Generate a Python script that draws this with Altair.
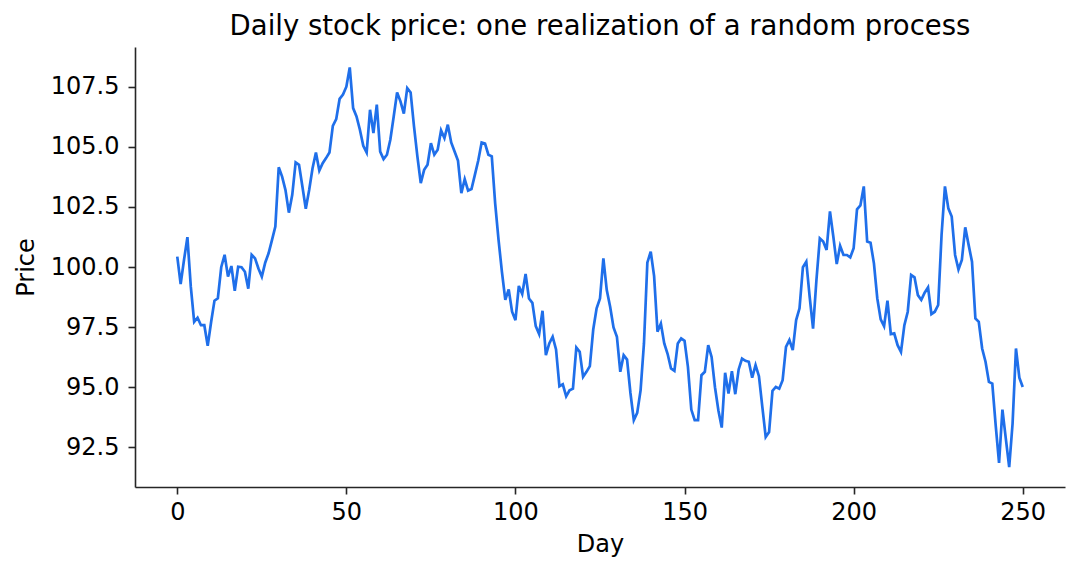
import altair as alt
import pandas as pd

# Daily closing price (days 0..250)
prices = [
    100.43, 99.29, 100.30, 101.24, 99.18, 97.72, 97.89, 97.58, 97.58, 96.72,
    97.70, 98.60, 98.70, 99.99, 100.51, 99.60, 100.04, 99.01, 100.01, 99.99,
    99.80, 99.10, 100.51, 100.36, 99.94, 99.60, 100.18, 100.57, 101.12, 101.68,
    104.15, 103.76, 103.20, 102.26, 103.00, 104.35, 104.25, 103.35, 102.42, 103.20,
    104.11, 104.76, 104.01, 104.32, 104.53, 104.76, 105.87, 106.15, 106.99, 107.17,
    107.50, 108.30, 106.61, 106.26, 105.71, 105.04, 104.76, 106.54, 105.57, 106.75,
    104.80, 104.49, 104.67, 105.29, 106.26, 107.26, 106.89, 106.38, 107.44, 107.26,
    105.85, 104.60, 103.49, 104.04, 104.25, 105.15, 104.67, 104.88, 105.68, 105.36,
    105.92, 105.18, 104.80, 104.43, 103.07, 103.65, 103.18, 103.24, 103.83, 104.43,
    105.18, 105.13, 104.67, 104.60, 102.65, 101.13, 99.80, 98.63, 99.07, 98.14,
    97.79, 99.21, 98.88, 99.71, 98.69, 98.51, 97.54, 97.21, 98.18, 96.33,
    96.82, 97.10, 96.57, 95.04, 95.12, 94.62, 94.87, 94.94, 96.65, 96.47,
    95.43, 95.64, 95.88, 97.40, 98.28, 98.69, 100.36, 99.04, 98.35, 97.49,
    97.10, 95.64, 96.33, 96.15, 94.76, 93.63, 93.93, 94.87, 96.82, 100.18,
    100.64, 99.62, 97.31, 97.65, 96.82, 96.38, 95.78, 95.68, 96.82, 97.03,
    96.93, 95.85, 94.07, 93.63, 93.63, 95.50, 95.64, 96.75, 96.26, 95.00,
    94.04, 93.32, 95.60, 94.74, 95.67, 94.71, 95.74, 96.19, 96.10, 96.06,
    95.40, 95.92, 95.46, 94.18, 92.93, 93.14, 94.85, 95.01, 94.94, 95.29,
    96.68, 96.96, 96.54, 97.79, 98.28, 99.99, 100.22, 98.76, 97.44, 99.46,
    101.19, 101.06, 100.71, 102.31, 101.26, 100.12, 100.88, 100.50, 100.50, 100.40,
    100.78, 102.40, 102.56, 103.35, 101.06, 101.01, 100.15, 98.69, 97.82, 97.54,
    98.60, 97.21, 97.24, 96.75, 96.47, 97.58, 98.14, 99.67, 99.57, 98.83,
    98.63, 98.93, 99.15, 98.04, 98.14, 98.42, 101.33, 103.35, 102.44, 102.10,
    100.50, 99.90, 100.29, 101.65, 100.92, 100.22, 97.86, 97.72, 96.61, 96.06,
    95.22, 95.15, 93.42, 91.85, 94.07, 92.86, 91.68, 93.49, 96.61, 95.40,
    95.01,
]
days = list(range(len(prices)))

x_ticks = [0, 50, 100, 150, 200, 250]
y_ticks = [92.5, 95.0, 97.5, 100.0, 102.5, 105.0, 107.5]

df = pd.DataFrame({'Day': days, 'Price': prices})

font = 'DejaVu Sans'
ink = '#262626'

line = alt.Chart(df).mark_line(color='#1f6fea', strokeWidth=2.7).encode(
    x=alt.X('Day:Q', title='Day',
            scale=alt.Scale(domain=[-12.5, 262.5], nice=False, zero=False),
            axis=alt.Axis(values=x_ticks, format='d', labelPadding=6, titlePadding=8)),
    y=alt.Y('Price:Q', title='Price',
            scale=alt.Scale(domain=[90.85, 109.15], nice=False, zero=False),
            axis=alt.Axis(values=y_ticks, format='.1f', labelPadding=9, titlePadding=12)),
)

chart = line.properties(
    width=930,
    height=440,
    autosize=alt.AutoSizeParams(type='none'),
    padding={'left': 127, 'top': 39, 'right': 6, 'bottom': 70},
    title=alt.Title('Daily stock price: one realization of a random process',
                    font=font, fontSize=27.5, fontWeight='normal', color='black',
                    anchor='middle', baseline='alphabetic', offset=0, dy=15),
).configure_view(
    stroke=None
).configure_axis(
    grid=False,
    domainColor=ink,
    domainWidth=1.6,
    tickColor=ink,
    tickWidth=1.6,
    tickSize=7,
    labelFont=font,
    labelFontSize=24,
    labelColor='black',
    titleFont=font,
    titleFontSize=24,
    titleFontWeight='normal',
    titleColor='black',
)

chart.save('out.html', embed_options={'renderer': 'svg', 'actions': False})
